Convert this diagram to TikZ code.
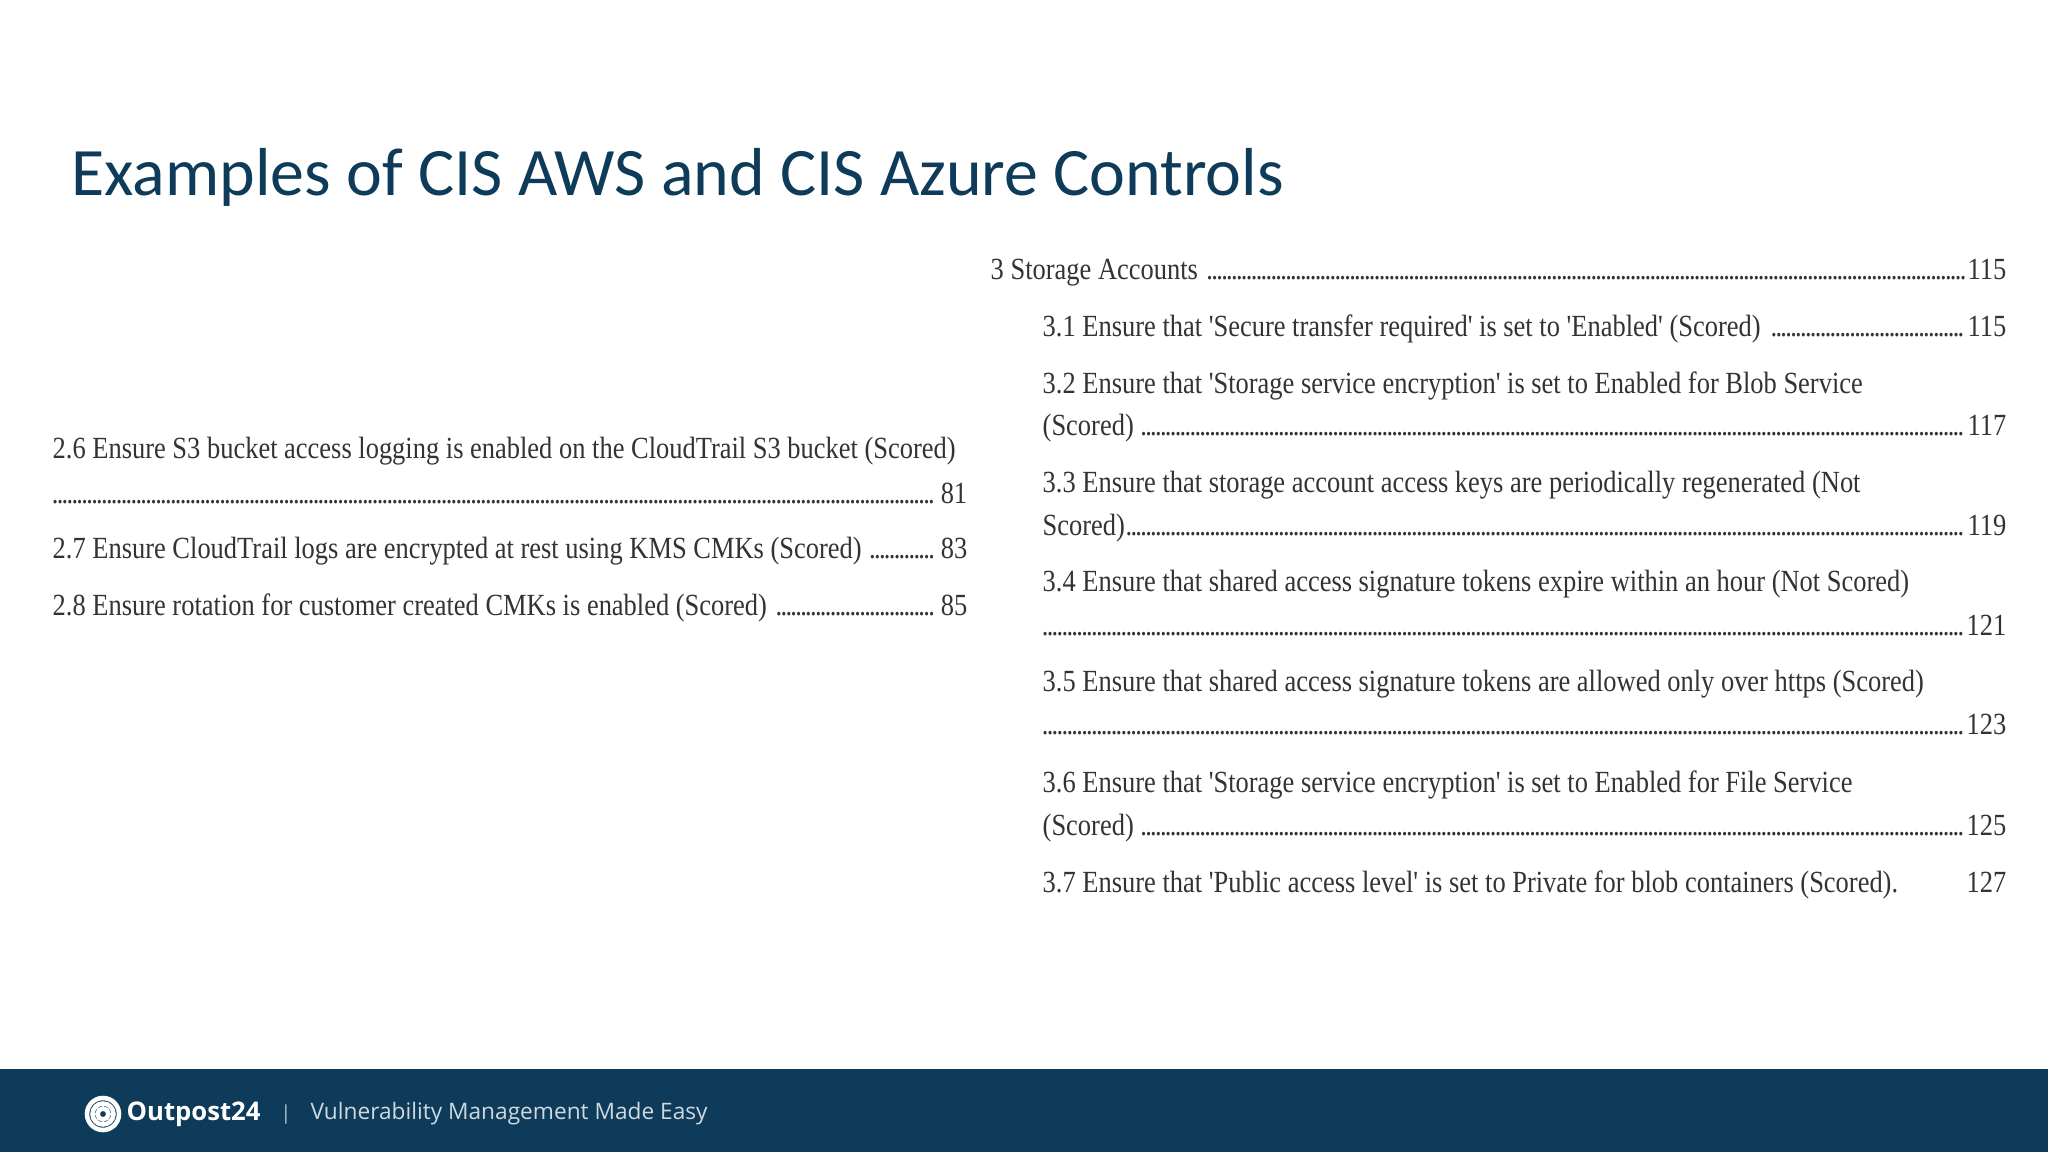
\documentclass[tikz,border=0pt]{standalone}
\usepackage{fontspec}
\setmainfont{Carlito}
\newfontfamily\tocf[FakeStretch=0.86]{Liberation Serif}
\newfontfamily\sansf{Open Sans}
\definecolor{navy}{HTML}{0D3B59}
\definecolor{tocgray}{HTML}{333333}
\newcommand{\dleader}{\leaders\hbox to 0.16em{\hss.\hss}\hfill}
\newcommand{\tocl}[3]{\hbox to #1{#2\dleader#3}}
\tikzset{toc/.style={anchor=base west,inner sep=0pt,font=\tocf\fontsize{8.75pt}{10pt}\selectfont,text=tocgray}}
\begin{document}
\begin{tikzpicture}[x=0.01cm,y=-0.01cm]
\useasboundingbox (0,0) rectangle (2048,1152);
\fill[white] (0,0) rectangle (2048,1152);
\fill[navy] (0,1069) rectangle (2048,1152);
\node[anchor=base west,inner sep=0pt,text=navy,font=\fontsize{19.3pt}{22pt}\selectfont] (title) at (71,196) {Examples of CIS AWS and CIS Azure Controls};
% left column
\node[toc] (a1) at (52,459) {2.6 Ensure S3 bucket access logging is enabled on the CloudTrail S3 bucket (Scored)};
\node[toc] (a2) at (52,504) {\tocl{9.14cm}{}{ 81}};
\node[toc] (a3) at (52,559) {\tocl{9.14cm}{2.7 Ensure CloudTrail logs are encrypted at rest using KMS CMKs (Scored) }{ 83}};
\node[toc] (a4) at (52,616) {\tocl{9.14cm}{2.8 Ensure rotation for customer created CMKs is enabled (Scored) }{ 85}};
% right column
\node[toc] (b0) at (990,280) {\tocl{10.15cm}{3 Storage Accounts }{115}};
\node[toc] (b1) at (1042,337) {\tocl{9.63cm}{3.1 Ensure that 'Secure transfer required' is set to 'Enabled' (Scored) }{115}};
\node[toc] (b2) at (1042,394) {3.2 Ensure that 'Storage service encryption' is set to Enabled for Blob Service};
\node[toc] (b2b) at (1042,436) {\tocl{9.63cm}{(Scored) }{117}};
\node[toc] (b3) at (1042,493) {3.3 Ensure that storage account access keys are periodically regenerated (Not};
\node[toc] (b3b) at (1042,536) {\tocl{9.63cm}{Scored)}{119}};
\node[toc] (b4) at (1042,592) {3.4 Ensure that shared access signature tokens expire within an hour (Not Scored)};
\node[toc] (b4b) at (1042,636) {\tocl{9.63cm}{}{121}};
\node[toc] (b5) at (1042,692) {3.5 Ensure that shared access signature tokens are allowed only over https (Scored)};
\node[toc] (b5b) at (1042,735) {\tocl{9.63cm}{}{123}};
\node[toc] (b6) at (1042,792) {3.6 Ensure that 'Storage service encryption' is set to Enabled for File Service};
\node[toc] (b6b) at (1042,835) {\tocl{9.63cm}{(Scored) }{125}};
\node[toc] (b7) at (1042,892) {\hbox to 9.63cm{3.7 Ensure that 'Public access level' is set to Private for blob containers (Scored).\hfill127}};
% footer
\draw[white,line width=1.3pt] (103,1114) circle (16);
\draw[white,line width=1.3pt] (103,1114) circle (10.5);
\draw[white,line width=1.3pt] (103,1114) circle (5.5);
\node[anchor=west,inner sep=0pt,text=white,font=\sansf\bfseries\fontsize{7.3pt}{9pt}\selectfont] (logo) at (126,1114) {Outpost24};
\node[anchor=west,inner sep=0pt,text=white!70!navy,font=\sansf\fontsize{5.5pt}{7pt}\selectfont] (sep) at (280,1114) {|};
\node[anchor=west,inner sep=0pt,text=white!80!navy,font=\sansf\fontsize{6.45pt}{8pt}\selectfont] (tag) at (310,1114) {Vulnerability Management Made Easy};
\end{tikzpicture}
\end{document}
